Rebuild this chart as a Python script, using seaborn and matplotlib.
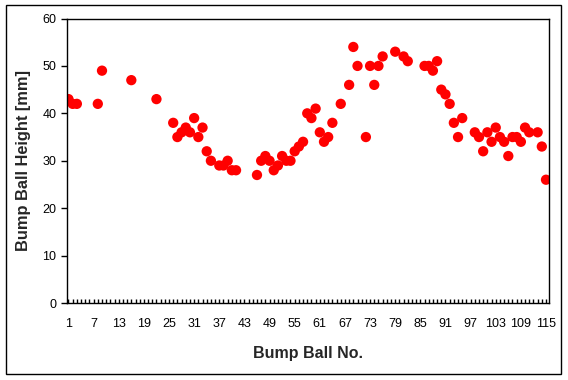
import numpy as np
import matplotlib
matplotlib.use("Agg")
import matplotlib.pyplot as plt
import matplotlib.patches as patches
from matplotlib.ticker import MultipleLocator, FixedLocator
import seaborn as sns

# Bump ball number vs measured height [mm]
ball_no = [1, 2, 3, 8, 9, 16, 22,
           26, 27, 28, 29, 30, 31, 32, 33, 34, 35,
           37, 38, 39, 40, 41,
           46, 47, 48, 49, 50, 51, 52, 53, 54, 55, 56, 57, 58, 59, 60, 61, 62, 63, 64,
           66, 68, 69, 70, 72, 73, 74, 75, 76,
           79, 81, 82,
           86, 87, 88, 89, 90, 91, 92, 93, 94, 95,
           98, 99, 100, 101, 102, 103, 104, 105, 106, 107, 108, 109, 110, 111,
           113, 114, 115]
height = [43, 42, 42, 42, 49, 47, 43,
          38, 35, 36, 37, 36, 39, 35, 37, 32, 30,
          29, 29, 30, 28, 28,
          27, 30, 31, 30, 28, 29, 31, 30, 30, 32, 33, 34, 40, 39, 41, 36, 34, 35, 38,
          42, 46, 54, 50, 35, 50, 46, 50, 52,
          53, 52, 51,
          50, 50, 49, 51, 45, 44, 42, 38, 35, 39,
          36, 35, 32, 36, 34, 37, 35, 34, 31, 35, 35, 34, 37, 36,
          36, 33, 26]

x_ticks = list(range(1, 116, 6))
y_ticks = list(range(0, 61, 10))

sns.set_style("white")
plt.rcParams["font.family"] = ["Liberation Sans", "DejaVu Sans"]

fig = plt.figure(figsize=(5.68, 3.8), dpi=100)
ax = fig.add_axes([0.1188, 0.2026, 0.8469, 0.7487])

sns.scatterplot(x=ball_no, y=height, ax=ax, color="#ff0000", s=55,
                edgecolor="none", linewidth=0)

ax.set_xlim(0.76, 115.6)
ax.set_ylim(0, 60)
ax.xaxis.set_major_locator(FixedLocator(x_ticks))
ax.xaxis.set_minor_locator(MultipleLocator(1))
ax.set_yticks(y_ticks)

ax.tick_params(axis="x", which="both", direction="in", length=3, width=1,
               pad=11, labelsize=9, colors="black", bottom=True)
ax.tick_params(axis="y", direction="out", length=4, width=1, pad=4,
               labelsize=9, colors="black", left=True)

for sp in ax.spines.values():
    sp.set_visible(True)
    sp.set_color("black")
    sp.set_linewidth(1.0)

ax.set_xlabel("Bump Ball No.", fontsize=11.5, fontweight="bold", labelpad=11)
ax.set_ylabel("Bump Ball Height [mm]", fontsize=11.8, fontweight="bold", labelpad=8)

# outer chart border
fig.patches.append(patches.Rectangle((5.5 / 568, 6 / 380), 555 / 568, 369 / 380,
                                     transform=fig.transFigure, fill=False,
                                     edgecolor="black", linewidth=1.0))

fig.savefig("out.png", dpi=100)
plt.close()
